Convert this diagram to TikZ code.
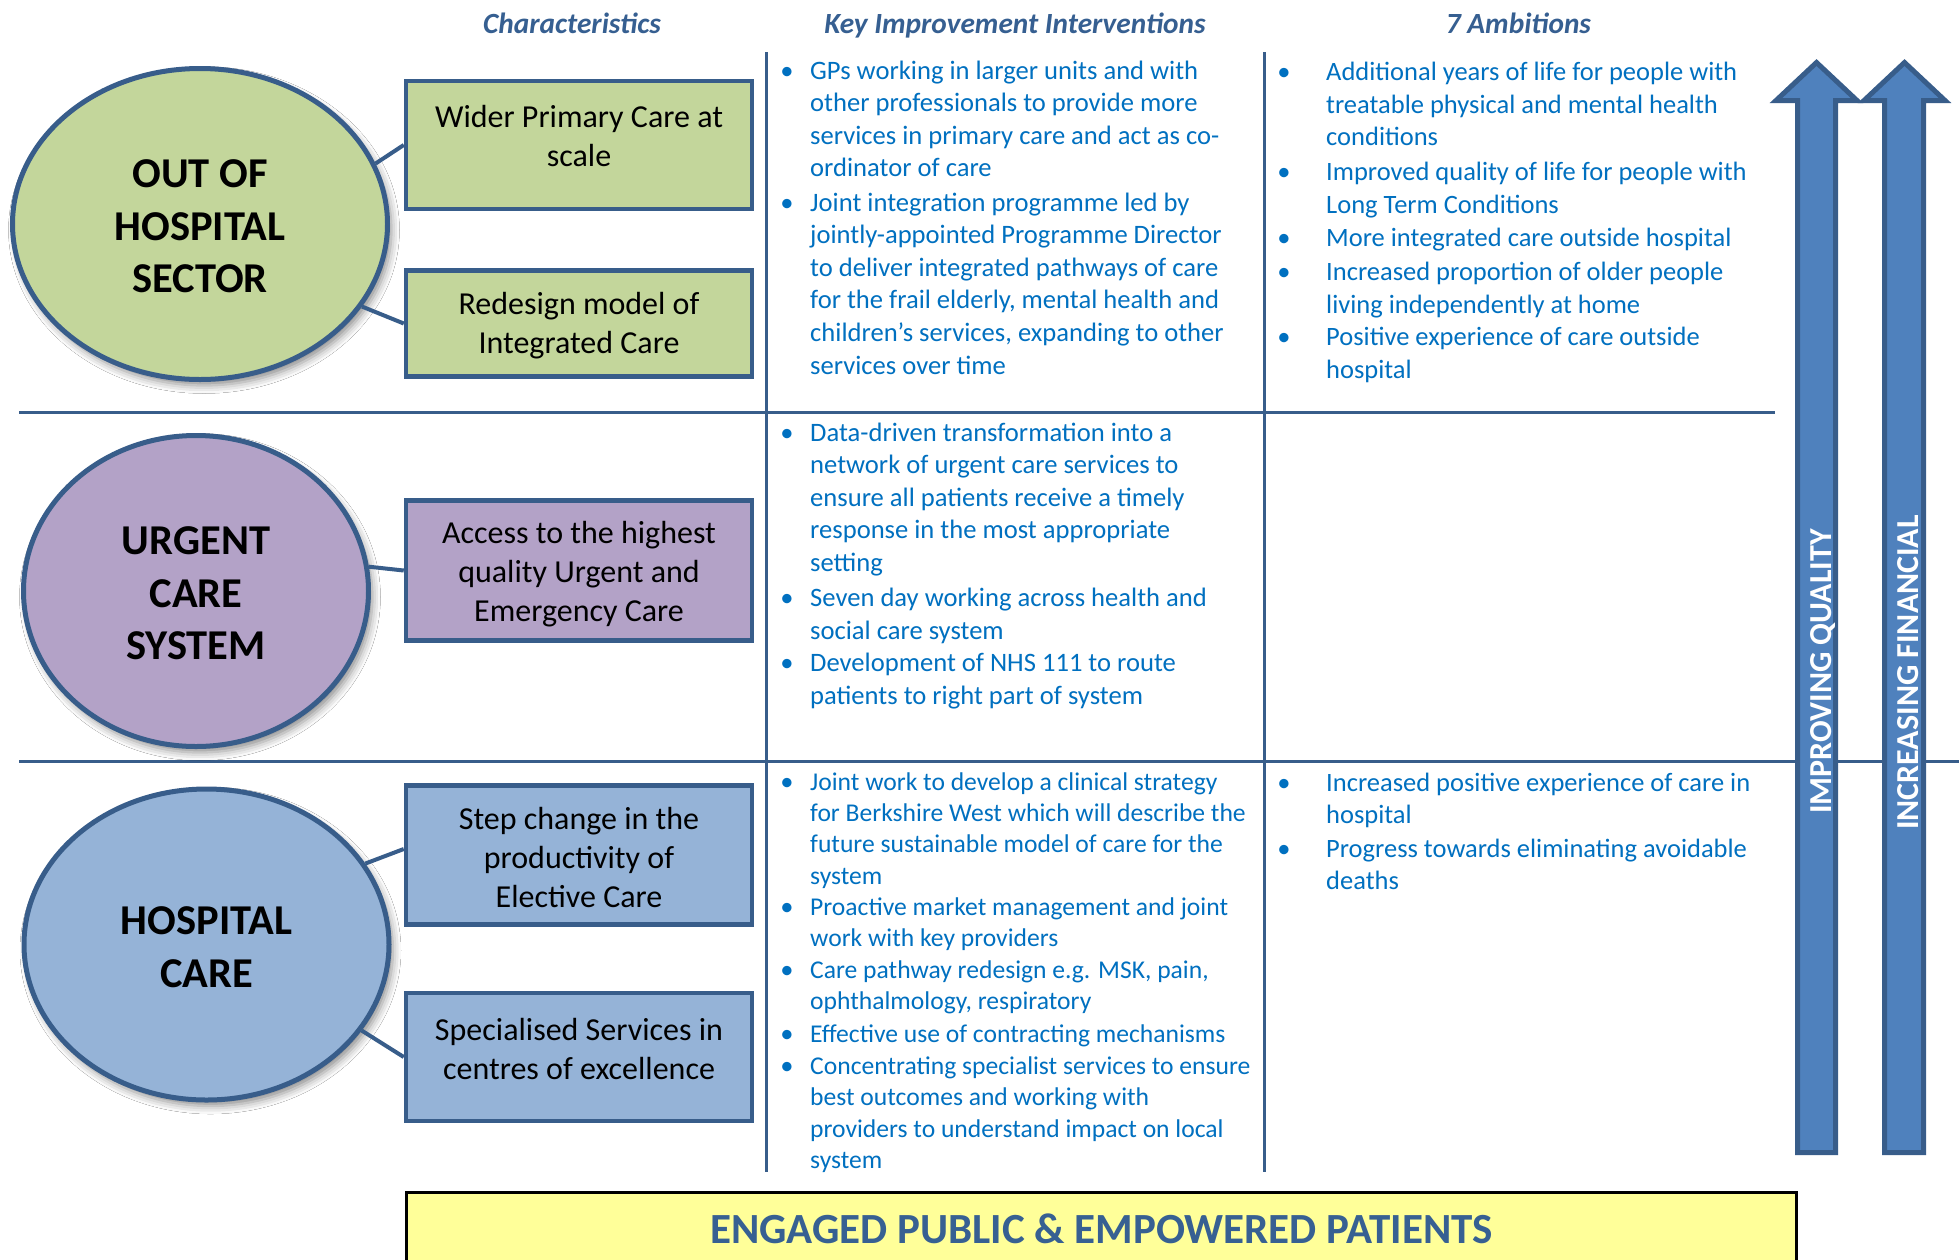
\documentclass[tikz,border=0pt]{standalone}
\usepackage{fontspec}
\setmainfont{Carlito}
\usetikzlibrary{shapes.geometric,shadows.blur}

\definecolor{edge}{HTML}{385D8A}
\definecolor{ink}{HTML}{0070C0}
\definecolor{headc}{HTML}{365F91}
\definecolor{bannerc}{HTML}{376092}
\definecolor{greenf}{HTML}{C3D69B}
\definecolor{purplef}{HTML}{B3A2C7}
\definecolor{bluef}{HTML}{95B3D7}
\definecolor{arrowf}{HTML}{4F81BD}
\definecolor{bannerf}{HTML}{FFFF99}

% bullet entry: name, bullet x, text x, first baseline y, font size, line spacing, lines
\newcommand\entry[7]{%
  \node[dot] (#1d) at (#2,#4) {\textbullet};
  \node[lst] (#1) at (#3,#4) {\fontsize{#5}{#6}\selectfont\parbox[t]{600pt}{#7}};}
% taller first line pushes sector labels slightly below the ellipse centre
\newcommand\lift{\rule{0pt}{33pt}}

\begin{document}
\begin{tikzpicture}[x=1pt,y=-1pt,
  sector/.style={ellipse, draw=edge, line width=5pt, inner sep=0pt, align=center,
    text=black, font=\fontsize{42.5}{52.5}\selectfont\bfseries,
    blur shadow={shadow xshift=4pt, shadow yshift=-6pt, shadow blur radius=8pt, shadow opacity=45}},
  charbox/.style={rectangle, draw=edge, line width=4.5pt, inner sep=0pt},
  boxtext/.style={align=center, inner sep=0pt, text=black, font=\fontsize{32}{39}\selectfont},
  head/.style={anchor=base, inner sep=0pt, text=headc, font=\fontsize{29.3}{34}\selectfont\bfseries\itshape},
  lst/.style={anchor=base west, inner sep=0pt, text=ink},
  dot/.style={anchor=base, inner sep=0pt, text=ink, font=\fontsize{26.5}{32}\selectfont},
  rule/.style={draw=edge, line width=3pt},
  link/.style={draw=edge, line width=4pt},
  uparrow/.style={fill=arrowf, draw=edge, line width=5pt, line join=miter},
  arrtxt/.style={rotate=90, anchor=base, inner sep=0pt, text=white, font=\fontsize{32}{38}\selectfont\bfseries},
]
\useasboundingbox (0,0) rectangle (1959,1259);
\fill[white] (0,0) rectangle (1959,1259);

% table rules
\draw[rule] (19,412) -- (1775,412);
\draw[rule] (19,761) -- (1959,761);
\draw[rule] (766,52) -- (766,1172);
\draw[rule] (1264,52) -- (1264,1172);

% column headings
\node[head] (h1) at (572,33) {Characteristics};
\node[head] (h2) at (1015,33) {Key Improvement Interventions};
\node[head] (h3) at (1518.5,33) {7 Ambitions};

% sectors
\node[sector, fill=greenf, minimum width=375pt, minimum height=311pt] (e1) at (200,224) {\lift OUT OF\\HOSPITAL\\SECTOR};
\node[sector, fill=purplef, minimum width=345pt, minimum height=311pt] (e2) at (196,591) {\lift URGENT\\CARE\\SYSTEM};
\node[sector, fill=bluef, minimum width=365pt, minimum height=311pt] (e3) at (206.5,944.5) {\lift HOSPITAL\\CARE};

% characteristics
\node[charbox, fill=greenf, minimum width=346pt, minimum height=128pt] (b1) at (579,145) {};
\node[charbox, fill=greenf, minimum width=346pt, minimum height=106pt] (b2) at (579,323.5) {};
\node[charbox, fill=purplef, minimum width=346pt, minimum height=140pt] (b3) at (579,570.5) {};
\node[charbox, fill=bluef, minimum width=346pt, minimum height=139pt] (b4) at (579,855) {};
\node[charbox, fill=bluef, minimum width=346pt, minimum height=128pt] (b5) at (579,1057) {};

\node[boxtext] (t1) at (579,136) {Wider Primary Care at\\scale};
\node[boxtext] (t2) at (579,325.5) {Redesign model of\\Integrated Care};
\node[boxtext] (t3) at (579,574.5) {Access to the highest\\quality Urgent and\\Emergency Care};
\node[boxtext] (t4) at (579,857) {Step change in the\\productivity of\\Elective Care};
\node[boxtext] (t5) at (579,1049) {Specialised Services in\\centres of excellence};

% connectors
\draw[link] (e1.19) -- (b1.west);
\draw[link] (e1.-27) -- (b2.west);
\draw[link] (e2.8) -- (b3.west);
\draw[link] (e3.27) -- ([yshift=6pt]b4.west);
\draw[link] (e3.-29) -- (b5.west);

% key improvement interventions
\entry{ka}{787}{810}{79}{26.6}{32.6}{GPs working in larger units and with\\other professionals to provide more\\services in primary care and act as co-\\ordinator of care}
\entry{kb}{787}{810}{211}{26.6}{32.6}{Joint integration programme led by\\jointly-appointed Programme Director\\to deliver integrated pathways of care\\for the frail elderly, mental health and\\children’s services, expanding to other\\services over time}
\entry{kc}{787}{810}{441}{26.6}{32.6}{Data-driven transformation into a\\network of urgent care services to\\ensure all patients receive a timely\\response in the most appropriate\\setting}
\entry{kd}{787}{810}{606.5}{26.6}{32.6}{Seven day working across health and\\social care system}
\entry{ke}{787}{810}{671.5}{26.6}{32.6}{Development of NHS 111 to route\\patients to right part of system}
\entry{kf}{787}{810}{790}{25.6}{31.4}{Joint work to develop a clinical strategy\\for Berkshire West which will describe the\\future sustainable model of care for the\\system}
\entry{kg}{787}{810}{915}{25.6}{31.4}{Proactive market management and joint\\work with key providers}
\entry{kh}{787}{810}{978.5}{25.6}{31.4}{Care pathway redesign e.g. MSK, pain,\\ophthalmology, respiratory}
\entry{ki}{787}{810}{1042.5}{25.6}{31.4}{Effective use of contracting mechanisms}
\entry{kj}{787}{810}{1074.5}{25.6}{31.4}{Concentrating specialist services to ensure\\best outcomes and working with\\providers to understand impact on local\\system}

% ambitions
\entry{aa}{1284}{1326}{80.5}{26.5}{32.5}{Additional years of life for people with\\treatable physical and mental health\\conditions}
\entry{ab}{1284}{1326}{180.5}{26.5}{32.5}{Improved quality of life for people with\\Long Term Conditions}
\entry{ac}{1284}{1326}{246.5}{26.5}{32.5}{More integrated care outside hospital}
\entry{ad}{1284}{1326}{280.5}{26.5}{32.5}{Increased proportion of older people\\living independently at home}
\entry{ae}{1284}{1326}{345.5}{26.5}{32.5}{Positive experience of care outside\\hospital}
\entry{af}{1284}{1326}{791.5}{26.5}{32}{Increased positive experience of care in\\hospital}
\entry{ag}{1284}{1326}{857.5}{26.5}{32}{Progress towards eliminating avoidable\\deaths}

% rising arrows
\draw[uparrow] (1797.5,1152.5) -- (1797.5,100.5) -- (1776,100.5) -- (1816.5,62.5)
  -- (1857,100.5) -- (1835.5,100.5) -- (1835.5,1152.5) -- cycle;
\draw[uparrow] (1884.5,1152.5) -- (1884.5,100.5) -- (1864,100.5) -- (1904.5,62.5)
  -- (1945,100.5) -- (1923.5,100.5) -- (1923.5,1152.5) -- cycle;
\node[arrtxt] (q1) at (1831,671.5) {IMPROVING QUALITY};
\node[arrtxt] (q2) at (1918,672.5) {INCREASING FINANCIAL};

% banner
\node[draw=black, line width=3pt, fill=bannerf, inner sep=0pt, minimum width=1390pt, minimum height=100pt] (pub) at (1101.5,1242.5) {};
\node[anchor=base, inner sep=0pt, text=bannerc, font=\fontsize{43}{50}\selectfont\bfseries] (pubt) at (1101.5,1243) {ENGAGED PUBLIC \& EMPOWERED PATIENTS};
\end{tikzpicture}
\end{document}
